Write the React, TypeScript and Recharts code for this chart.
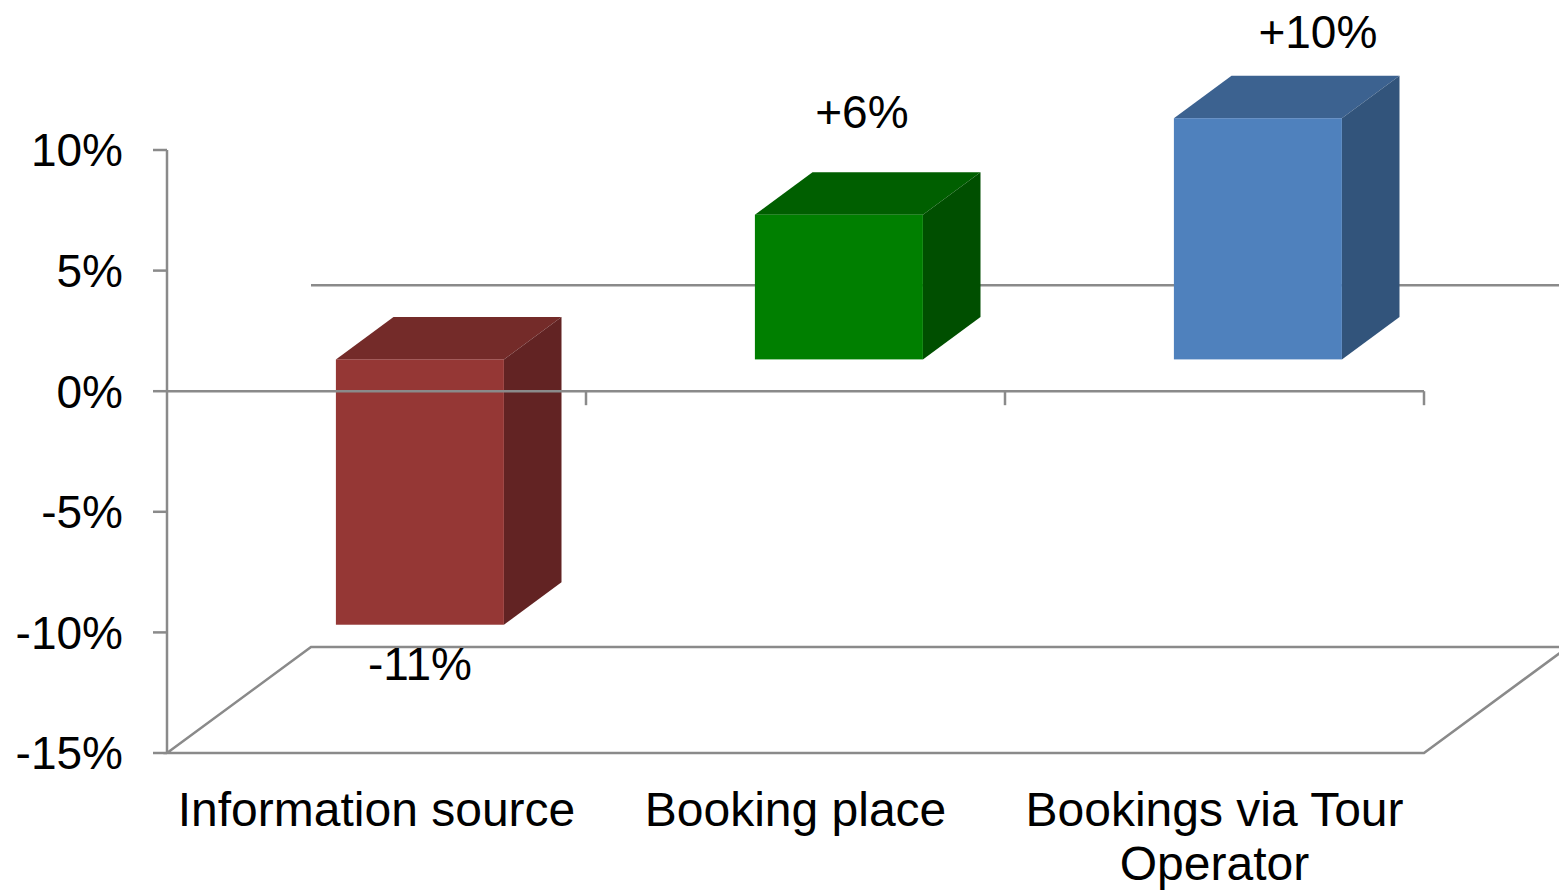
import React from 'react';
import { BarChart, Bar, XAxis, YAxis, ReferenceLine, LabelList } from 'recharts';

// values (change in %)
const categories = ['Information source', 'Booking place', 'Bookings via Tour Operator'];
const changes = [-11, 6, 10];
const yTicks = [-15, -10, -5, 0, 5, 10];

const data = categories.map((name, i) => ({ name, value: changes[i] }));

const FONT = '"Liberation Sans", Arial, sans-serif';
const GRAY = '#8a8a8a';
// depth of the 3D box (floor / walls) and where the bars sit inside it
const DEPTH_X = 144;
const DEPTH_Y = -106;
const FRONT = 0.3;
const BACK = 0.7;

const faceColors = [
  { front: '#953735', top: '#742b29', side: '#622323' },
  { front: '#007f00', top: '#005f00', side: '#004f00' },
  { front: '#4f81bd', top: '#3c6290', side: '#32547b' },
];

// data labels were hand-placed in the original, nudge them per bar
const labelNudge = [
  { dx: 0, dy: 55 },
  { dx: 23, dy: -87 },
  { dx: 60, dy: -70 },
];

const Box3D = (props: any) => {
  const { x, y, width, height } = props;
  const idx = props.index ?? categories.indexOf(props.payload?.name);
  const c = faceColors[idx % faceColors.length];
  const top = Math.min(y, y + height);
  const bottom = Math.max(y, y + height);
  const fx = x + DEPTH_X * FRONT;
  const fTop = top + DEPTH_Y * FRONT;
  const fBottom = bottom + DEPTH_Y * FRONT;
  const bx = DEPTH_X * (BACK - FRONT);
  const by = DEPTH_Y * (BACK - FRONT);
  return (
    <g>
      <polygon
        points={`${fx},${fTop} ${fx + bx},${fTop + by} ${fx + width + bx},${fTop + by} ${fx + width},${fTop}`}
        fill={c.top}
      />
      <polygon
        points={`${fx + width},${fTop} ${fx + width + bx},${fTop + by} ${fx + width + bx},${fBottom + by} ${fx + width},${fBottom}`}
        fill={c.side}
      />
      <rect x={fx} y={fTop} width={width} height={fBottom - fTop} fill={c.front} />
    </g>
  );
};

const renderValueLabel = (props: any) => {
  const vb = props.viewBox ?? props;
  const { x, y, width, height } = vb;
  const v = Number(props.value);
  const idx = props.index ?? changes.indexOf(v);
  const nudge = labelNudge[idx] ?? { dx: 0, dy: 0 };
  const top = Math.min(y, y + height);
  const bottom = Math.max(y, y + height);
  const cx = x + width / 2 + DEPTH_X * FRONT;
  const anchorY = (v < 0 ? bottom : top) + DEPTH_Y * FRONT;
  return (
    <text
      x={cx + nudge.dx}
      y={anchorY + nudge.dy}
      textAnchor="middle"
      fontSize={46}
      fontFamily={FONT}
      fill="#000"
    >
      {v > 0 ? `+${v}%` : `${v}%`}
    </text>
  );
};

const Floor = (p: any) => {
  const { x1, y1, x2, y2 } = p;
  return (
    <polygon
      points={`${x1},${y1} ${x2},${y2} ${x2 + DEPTH_X},${y2 + DEPTH_Y} ${x1 + DEPTH_X},${y1 + DEPTH_Y}`}
      fill="none"
      stroke={GRAY}
      strokeWidth={2.5}
    />
  );
};

const BackWallLine = (p: any) => (
  <line
    x1={p.x1 + DEPTH_X}
    y1={p.y1 + DEPTH_Y}
    x2={p.x2 + DEPTH_X}
    y2={p.y2 + DEPTH_Y}
    stroke={GRAY}
    strokeWidth={2.5}
  />
);

const ZeroAxis = (p: any) => {
  const { x1, y1, x2 } = p;
  const step = (x2 - x1) / categories.length;
  return (
    <g>
      <line x1={x1} y1={y1} x2={x2} y2={y1} stroke={GRAY} strokeWidth={2.5} />
      {categories.map((_, i) => (
        <line
          key={i}
          x1={x1 + step * (i + 1)}
          y1={y1}
          x2={x1 + step * (i + 1)}
          y2={y1 + 14}
          stroke={GRAY}
          strokeWidth={2.5}
        />
      ))}
    </g>
  );
};

let measureCtx: CanvasRenderingContext2D | null = null;
const textWidth = (s: string, font: string) => {
  if (!measureCtx) measureCtx = document.createElement('canvas').getContext('2d');
  if (!measureCtx) return s.length * 24;
  measureCtx.font = font;
  return measureCtx.measureText(s).width;
};

const wrapLines = (label: string, maxWidth: number, font: string) => {
  const lines: string[] = [];
  let cur = '';
  label.split(' ').forEach((w) => {
    const next = cur ? `${cur} ${w}` : w;
    if (cur && textWidth(next, font) > maxWidth) {
      lines.push(cur);
      cur = w;
    } else {
      cur = next;
    }
  });
  if (cur) lines.push(cur);
  return lines;
};

const CategoryTick = (p: any) => {
  const lines = wrapLines(String(p.payload.value), 419, `48px ${FONT}`);
  return (
    <text x={p.x} y={p.y} textAnchor="middle" fontSize={48} fontFamily={FONT} fill="#000">
      {lines.map((line, i) => (
        <tspan key={i} x={p.x} dy={i === 0 ? 73 : 54}>
          {line}
        </tspan>
      ))}
    </text>
  );
};

export default function App() {
  return (
    <div style={{ position: 'absolute', left: 0, top: 0, width: 1559, height: 891, background: '#fff' }}>
      <BarChart
        width={1559}
        height={891}
        data={data}
        margin={{ top: 150, right: 135, bottom: 0, left: 0 }}
        barCategoryGap="30%"
      >
        <ReferenceLine y={-15} shape={Floor} zIndex={-20} />
        <ReferenceLine y={0} shape={BackWallLine} zIndex={-20} />
        <XAxis
          dataKey="name"
          height={138}
          axisLine={false}
          tickLine={false}
          tickSize={0}
          tickMargin={0}
          interval={0}
          tick={CategoryTick}
        />
        <YAxis
          width={167}
          domain={[-15, 10]}
          ticks={yTicks}
          interval={0}
          tickSize={14}
          tickMargin={30}
          tickFormatter={(v: number) => `${v}%`}
          axisLine={{ stroke: GRAY, strokeWidth: 2.5 }}
          tickLine={{ stroke: GRAY, strokeWidth: 2.5 }}
          tick={{ fill: '#000', fontSize: 46, fontFamily: FONT }}
        />
        <Bar dataKey="value" shape={Box3D} isAnimationActive={false}>
          <LabelList dataKey="value" content={renderValueLabel} />
        </Bar>
        <ReferenceLine y={0} shape={ZeroAxis} zIndex={900} />
      </BarChart>
    </div>
  );
}
